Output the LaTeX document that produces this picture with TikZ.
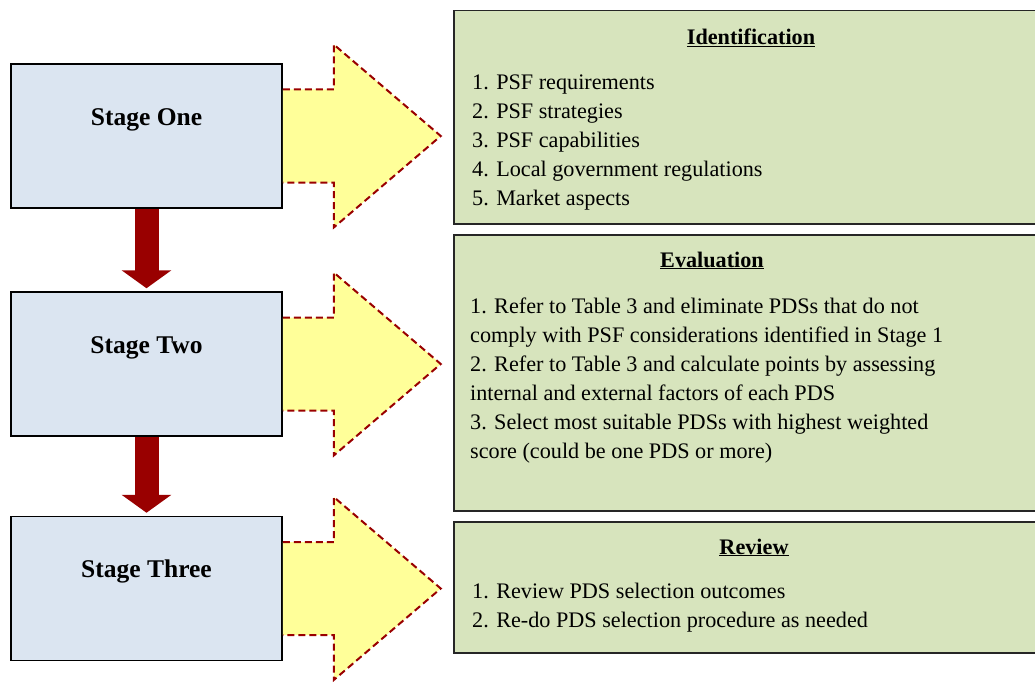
\documentclass[tikz,border=0pt]{standalone}
\usepackage{fontspec}
\setmainfont{Liberation Serif}
\usepackage{xcolor}
\usepackage{tikz}
\usetikzlibrary{arrows.meta}
\usetikzlibrary{positioning}
\definecolor{stageblue}{HTML}{DBE5F1}
\definecolor{boxgreen}{HTML}{D7E4BD}
\definecolor{arrowyellow}{HTML}{FFFF99}
\definecolor{darkred}{HTML}{990000}
\tikzset{
    stagebox/.style = {rectangle, draw=black, fill=stageblue, line width=1.5pt, minimum width=271pt, minimum height=144pt, text height=18pt, text depth=40pt, font=\fontsize{25.5}{30}\selectfont\bfseries},
    greenbox/.style = {rectangle, draw=black!85, fill=boxgreen, line width=1.5pt, minimum width=600pt, anchor=north west, inner sep=0pt},
    boxtitle/.style = {anchor=base, inner sep=0pt, font=\fontsize{22.2}{29}\selectfont\bfseries},
    boxitems/.style = {anchor=base west, align=left, inner sep=0pt, font=\fontsize{22.2}{29}\selectfont},
    yarrow/.style = {fill=arrowyellow, draw=darkred, line width=2pt, dash pattern=on 7pt off 4pt},
    downarrow/.style = {draw=darkred, line width=24pt, -{Triangle[width=49pt,length=18pt]}, shorten >=3pt}
}
\begin{document}
\begin{tikzpicture}[x=1pt, y=-1pt]
    \useasboundingbox (0,0) rectangle (1035,682);
    \clip (0,0) rectangle (1035,682);

    % stages
    \node[stagebox] (stage1) at (146.5,136) {Stage One};
    \node[stagebox] (stage2) at (146.5,364) {Stage Two};
    \node[stagebox] (stage3) at (146.5,588.5) {Stage Three};

    \draw[downarrow] (stage1.south) -- (stage2.north);
    \draw[downarrow] (stage2.south) -- (stage3.north);

    % yellow arrows
    \foreach \s in {stage1, stage2, stage3} {
        \draw[yarrow] (\s.east) ++(0,-46.5) -- ++(51,0) -- ++(0,-45) -- ++(107,91.5) -- ++(-107,91.5) -- ++(0,-45) -- ++(-51,0);
    }

    % Identification (list anchored at the baseline of its last line)
    \node[greenbox, minimum height=213pt] (ident) at (453,10) {};
    \node[boxtitle] (identtitle) at ([shift={(298,35)}]ident.north west) {\underline{Identification}};
    \node[boxitems] (identlist) at ([shift={(19,195)}]ident.north west) {1. PSF requirements\\
        2. PSF strategies\\
        3. PSF capabilities\\
        4. Local government regulations\\
        5. Market aspects};

    % Evaluation
    \node[greenbox, minimum height=276pt] (eval) at (453,234) {};
    \node[boxtitle] (evaltitle) at ([shift={(259,33)}]eval.north west) {\underline{Evaluation}};
    \node[boxitems] (evallist) at ([shift={(17,224)}]eval.north west) {1. Refer to Table 3 and eliminate PDSs that do not\\
        comply with PSF considerations identified in Stage 1\\
        2. Refer to Table 3 and calculate points by assessing\\
        internal and external factors of each PDS\\
        3. Select most suitable PDSs with highest weighted\\
        score (could be one PDS or more)};

    % Review
    \node[greenbox, minimum height=131pt] (review) at (453,521) {};
    \node[boxtitle] (reviewtitle) at ([shift={(301,33)}]review.north west) {\underline{Review}};
    \node[boxitems] (reviewlist) at ([shift={(19,106)}]review.north west) {1. Review PDS selection outcomes\\
        2. Re-do PDS selection procedure as needed};
\end{tikzpicture}
\end{document}
